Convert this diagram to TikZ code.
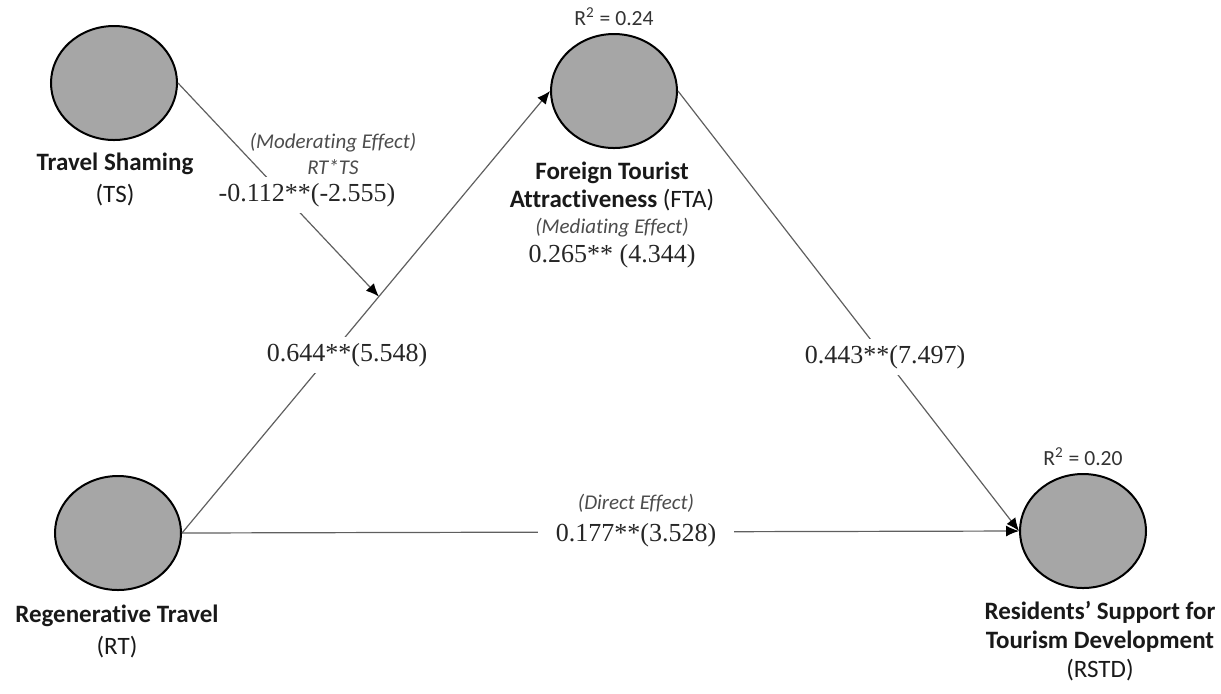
\documentclass[tikz,border=0pt]{standalone}
\usepackage{fontspec}
\setmainfont{Carlito}[Ligatures=NoCommon]
\newfontfamily\numfont{Liberation Serif}
\usetikzlibrary{shapes.geometric, arrows.meta, positioning}
\definecolor{latentgray}{RGB}{166,166,166}
\definecolor{pathgray}{RGB}{95,95,95}
\tikzset{
    x=0.5pt, y=-0.5pt, % one unit is one pixel of the layout, y runs down
    latent/.style={ellipse, draw=black, line width=1pt, fill=latentgray, minimum width=63pt, minimum height=57pt}, % the constructs
    effect/.style={-{Latex[length=6.5pt,width=5.5pt,color=black]}, draw=pathgray, line width=0.6pt}, % paths between constructs
    cname/.style={align=center, font=\fontsize{12.5}{16}\selectfont, text=black!90}, % construct names
    coef/.style={font=\numfont\fontsize{13}{15}\selectfont, fill=white, text=black!85}, % path coefficients
    kind/.style={align=center, font=\fontsize{10.5}{13}\selectfont\itshape, text=black!70}, % type of effect
    rsq/.style={font=\fontsize{10.8}{13}\selectfont, text=black!80}, % explained variance
}

\begin{document}
\begin{tikzpicture}
    \useasboundingbox (0,0) rectangle (1221,693);
    % constructs
    \node[latent] (TS) at (114,83) {};
    \node[latent] (FTA) at (614,91) {};
    \node[latent] (RT) at (118,533) {};
    \node[latent] (RSTD) at (1083,531) {};
    \node[rsq, above=0pt of FTA] (FTAr2) {R\textsuperscript{2} = 0.24};
    \node[rsq, above=0pt of RSTD] (RSTDr2) {R\textsuperscript{2} = 0.20};
    \node[cname] (TSname) at (115,179) {\textbf{Travel Shaming}\\(TS)};
    \node[cname] (RTname) at (117,631) {\textbf{Regenerative Travel}\\(RT)};
    \node[cname, font=\fontsize{12.5}{14}\selectfont] (FTAname) at (612,186) {\textbf{Foreign Tourist}\\\textbf{Attractiveness} (FTA)};
    \node[cname, font=\fontsize{12.5}{14.5}\selectfont] (RSTDname) at (1100,641) {\textbf{Residents’ Support for}\\\textbf{Tourism Development}\\(RSTD)};
    % paths
    \draw[effect] (RT.east) -- (FTA.west) coordinate[pos=0.535] (mod);
    \draw[effect] (TS.east) -- (mod);
    \draw[effect] (FTA.east) -- (RSTD.west);
    \draw[effect] (RT.east) -- (RSTD.west);
    % coefficients
    \node[kind] (kTS) at (333,154) {(Moderating Effect)\\RT*TS};
    \node[coef] (cTS) at (307,195) {-0.112**(-2.555)};
    \node[coef] (cRF) at (347,355) {0.644**(5.548)};
    \node[coef] (cFR) at (885,357) {0.443**(7.497)};
    \node[kind] (kRR) at (636,503) {(Direct Effect)};
    \node[coef, inner xsep=9pt] (cRR) at (636,535) {0.177**(3.528)};
    \node[kind] (kFTA) at (612,228) {(Mediating Effect)};
    \node[coef, fill=none] (cFTA) at (612,256) {0.265** (4.344)};
\end{tikzpicture}
\end{document}
